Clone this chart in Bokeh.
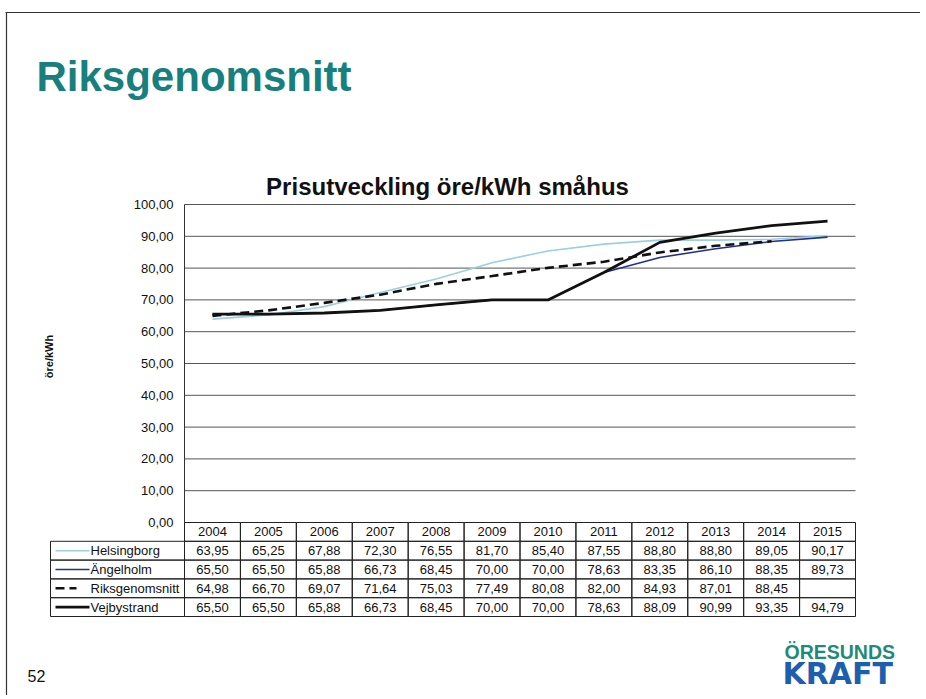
import math
import numpy as np
from bokeh.plotting import figure
from bokeh.models import Range1d, Label
from bokeh.embed import file_html
from bokeh.resources import INLINE
from bokeh.core.properties import value

# ---------------- data ----------------
years = ["2004", "2005", "2006", "2007", "2008", "2009",
         "2010", "2011", "2012", "2013", "2014", "2015"]
helsingborg = [63.95, 65.25, 67.88, 72.30, 76.55, 81.70, 85.40, 87.55, 88.80, 88.80, 89.05, 90.17]
angelholm = [65.50, 65.50, 65.88, 66.73, 68.45, 70.00, 70.00, 78.63, 83.35, 86.10, 88.35, 89.73]
riksgenomsnitt = [64.98, 66.70, 69.07, 71.64, 75.03, 77.49, 80.08, 82.00, 84.93, 87.01, 88.45, float("nan")]
vejbystrand = [65.50, 65.50, 65.88, 66.73, 68.45, 70.00, 70.00, 78.63, 88.09, 90.99, 93.35, 94.79]
series_names = ["Helsingborg", "Ängelholm", "Riksgenomsnitt", "Vejbystrand"]
y_ticks = [0, 10, 20, 30, 40, 50, 60, 70, 80, 90, 100]

# ---------------- layout (canvas pixels) ----------------
W, H = 920, 695
PLOT_L, PLOT_R = 184, 855
PLOT_T, PLOT_B = 204, 522
X_PX = 12.0 / (PLOT_R - PLOT_L)
Y_PX = 100.0 / (PLOT_B - PLOT_T)
x_start = -0.5 - PLOT_L * X_PX
x_end = 11.5 + (W - PLOT_R) * X_PX
y_start = -(H - PLOT_B) * Y_PX
y_end = 100 + PLOT_T * Y_PX


def cx(px):
    return x_start + px * X_PX


def cy(py):
    return y_end - py * Y_PX


FONT = "Liberation Sans"
idx = np.arange(len(years))

p = figure(width=W, height=H, x_range=Range1d(x_start, x_end), y_range=Range1d(y_start, y_end),
           x_axis_type=None, y_axis_type=None, output_backend="svg", toolbar_location=None,
           min_border=0, outline_line_color=None, background_fill_color="white",
           border_fill_color="white")

# slide border
p.segment(x0=[cx(5)], y0=[cy(12)], x1=[cx(W)], y1=[cy(12)], line_color="#333333", line_width=1.2)
p.segment(x0=[cx(6)], y0=[cy(12)], x1=[cx(6)], y1=[cy(H)], line_color="#333333", line_width=1.2)

# gridlines and axis line
grid_y = y_ticks[1:]
p.segment(x0=[-0.5] * len(grid_y), y0=grid_y, x1=[11.5] * len(grid_y), y1=grid_y,
          line_color="#555555", line_width=1)
p.segment(x0=[-0.5], y0=[0], x1=[-0.5], y1=[100], line_color="#333333", line_width=1)

tick_labels = [f"{t:.2f}".replace(".", ",") for t in y_ticks]
p.text(x=[-0.5] * len(y_ticks), y=y_ticks, text=tick_labels, x_offset=-11,
       text_align="right", text_baseline="middle", text_font=value(FONT),
       text_font_size="13px", text_color="#111111")

# series
styles = {
    "Helsingborg": dict(line_color="#9ccfe0", line_width=1.6),
    "Ängelholm": dict(line_color="#23308c", line_width=1.6),
    "Riksgenomsnitt": dict(line_color="#111111", line_width=2.6, line_dash="9 5"),
    "Vejbystrand": dict(line_color="#111111", line_width=2.8),
}
series_vals = [helsingborg, angelholm, riksgenomsnitt, vejbystrand]
for name, vals in zip(series_names, series_vals):
    p.line(x=idx, y=vals, **styles[name])

# ---------------- data table ----------------
ROW_H = 18.8 * Y_PX
LEG_L = cx(50)
row_c = [-(k + 0.5) * ROW_H for k in range(5)]

# header
p.rect(x=idx, y=[row_c[0]] * 12, width=1, height=ROW_H, fill_color=None,
       line_color="#222222", line_width=1)
p.text(x=idx, y=[row_c[0]] * 12, text=years, text_align="center", text_baseline="middle",
       text_font=value(FONT), text_font_size="13px", text_color="#111111")

leg_w = -0.5 - LEG_L
for r, (name, vals) in enumerate(zip(series_names, series_vals), start=1):
    yc = row_c[r]
    p.rect(x=idx, y=[yc] * 12, width=1, height=ROW_H, fill_color=None,
           line_color="#222222", line_width=1)
    p.rect(x=[LEG_L + leg_w / 2], y=[yc], width=leg_w, height=ROW_H, fill_color=None,
           line_color="#222222", line_width=1)
    labels = ["" if math.isnan(v) else f"{v:.2f}".replace(".", ",") for v in vals]
    p.text(x=idx, y=[yc] * 12, text=labels, text_align="center", text_baseline="middle",
           text_font=value(FONT), text_font_size="13px", text_color="#111111")
    if name == "Riksgenomsnitt":
        p.segment(x0=[cx(55)], y0=[yc], x1=[cx(76)], y1=[yc], **styles[name])
    else:
        p.segment(x0=[cx(55)], y0=[yc], x1=[cx(89)], y1=[yc], **styles[name])
    p.text(x=[cx(90)], y=[yc], text=[name], text_align="left", text_baseline="middle",
           text_font=value(FONT), text_font_size="13px", text_color="#111111")

# ---------------- titles & decorations ----------------
p.add_layout(Label(x=cx(36), y=cy(76), text="Riksgenomsnitt", text_font=FONT,
                   text_font_size="42px", text_font_style="bold", text_color="#17807e",
                   text_baseline="alphabetic", text_align="left"))
p.add_layout(Label(x=cx(447), y=cy(186), text="Prisutveckling öre/kWh småhus", text_font=FONT,
                   text_font_size="24px", text_font_style="bold", text_color="#111111",
                   text_baseline="alphabetic", text_align="center"))
p.add_layout(Label(x=cx(48), y=cy(356), text="öre/kWh", text_font=FONT, angle=math.pi / 2,
                   text_font_size="11px", text_font_style="bold", text_color="#111111",
                   text_baseline="middle", text_align="center"))
p.add_layout(Label(x=cx(27), y=cy(675), text="52", text_font=FONT,
                   text_font_size="16px", text_color="#111111",
                   text_baseline="alphabetic", text_align="left"))
p.add_layout(Label(x=cx(784), y=cy(651), text="ÖRESUNDS", text_font=FONT,
                   text_font_size="19.5px", text_font_style="bold", text_color="#1f8a78",
                   text_baseline="alphabetic", text_align="left"))
p.add_layout(Label(x=cx(782), y=cy(673), text="KRAFT", text_font="DejaVu Sans",
                   text_font_size="30px", text_font_style="bold", text_color="#1d5fae",
                   text_baseline="alphabetic", text_align="left"))

open("out.html", "w").write(file_html(p, INLINE))
